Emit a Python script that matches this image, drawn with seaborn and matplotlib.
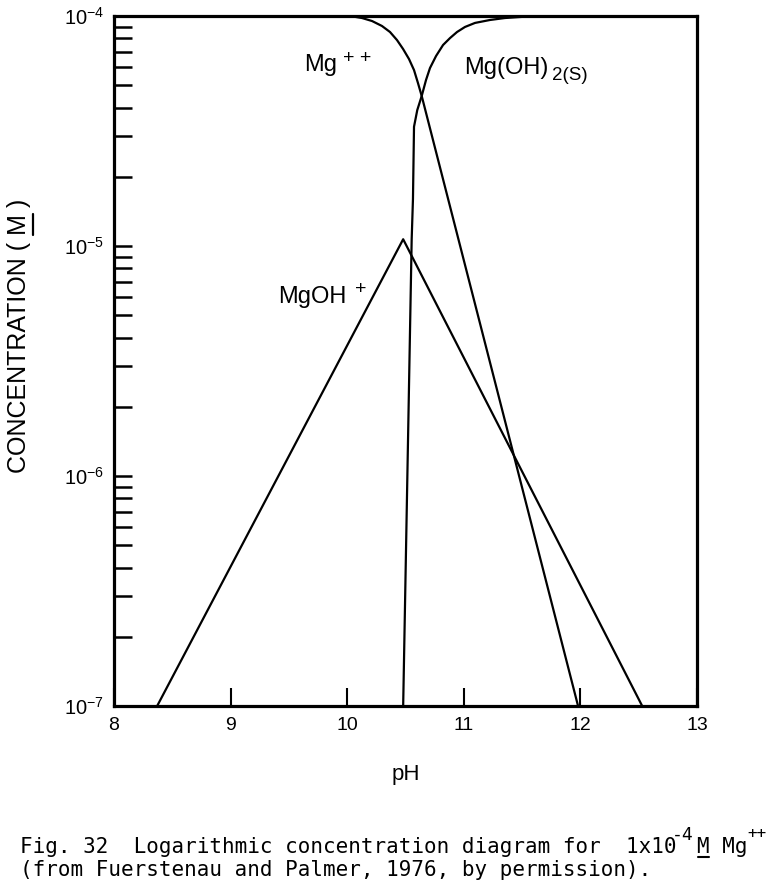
import numpy as np
import pandas as pd
import matplotlib
matplotlib.use("Agg")
import matplotlib.pyplot as plt
import seaborn as sns
from matplotlib.lines import Line2D
from matplotlib.ticker import LogLocator, NullFormatter, FixedLocator, FixedFormatter

# ---- data ----
ph_mg = [8.0, 10.024, 10.127, 10.213, 10.298, 10.367, 10.427, 10.479, 10.530,
         10.573, 10.607, 10.639, 11.98]
conc_mg = [1e-4, 1e-4, 9.80e-5, 9.51e-5, 9.05e-5, 8.52e-5, 7.86e-5, 7.19e-5, 6.50e-5,
           5.82e-5, 5.11e-5, 4.49e-5, 1e-7]

ph_mgoh = [8.37, 10.48, 12.53]
conc_mgoh = [1e-7, 1.07e-5, 1e-7]

ph_solid = [10.48, 10.553, 10.564, 10.573, 10.601, 10.639, 10.676, 10.710, 10.762,
            10.822, 10.882, 10.942, 11.010, 11.096, 11.225, 11.353, 11.482, 11.628, 13.0]
conc_solid = [1e-7, 1.07e-5, 1.6e-5, 3.3e-5, 3.9e-5, 4.49e-5, 5.27e-5, 5.94e-5, 6.70e-5,
              7.48e-5, 8.02e-5, 8.52e-5, 8.96e-5, 9.33e-5, 9.61e-5, 9.80e-5, 9.90e-5, 1e-4, 1e-4]

x_ticks = [8, 9, 10, 11, 12, 13]
x_ticklabels = ["8", "9", "10", "11", "12", "13"]
y_ticks = [1e-7, 1e-6, 1e-5, 1e-4]
y_ticklabels = [r"$10^{-7}$", r"$10^{-6}$", r"$10^{-5}$", r"$10^{-4}$"]

species = ["Mg++", "MgOH+", "Mg(OH)2(s)"]

df = pd.concat([
    pd.DataFrame({"pH": ph_mg, "conc": conc_mg, "species": species[0]}),
    pd.DataFrame({"pH": ph_mgoh, "conc": conc_mgoh, "species": species[1]}),
    pd.DataFrame({"pH": ph_solid, "conc": conc_solid, "species": species[2]}),
], ignore_index=True)

sns.set_style("white")
plt.rcParams["font.family"] = ["Liberation Sans", "DejaVu Sans"]
plt.rcParams["mathtext.fontset"] = "custom"
plt.rcParams["mathtext.rm"] = "Liberation Sans"
plt.rcParams["mathtext.it"] = "Liberation Sans"
plt.rcParams["mathtext.bf"] = "Liberation Sans"
plt.rcParams["mathtext.default"] = "regular"
plt.rcParams["text.color"] = "black"
plt.rcParams["axes.labelcolor"] = "black"
plt.rcParams["xtick.color"] = "black"
plt.rcParams["ytick.color"] = "black"

W, H = 774, 886
fig = plt.figure(figsize=(W / 100, H / 100), dpi=100)
fig.patch.set_facecolor("white")
L, R, T, B = 114, 697, 16, 706
ax = fig.add_axes([L / W, 1 - B / H, (R - L) / W, (B - T) / H])

sns.lineplot(data=df, x="pH", y="conc", hue="species", units="species",
             estimator=None, sort=False, palette={s: "black" for s in species},
             legend=False, linewidth=1.6, ax=ax)

ax.set_yscale("log")
ax.set_xlim(8, 13)
ax.set_ylim(1e-7, 1e-4)

ax.xaxis.set_major_locator(FixedLocator(x_ticks))
ax.xaxis.set_major_formatter(FixedFormatter(x_ticklabels))
ax.yaxis.set_major_locator(FixedLocator(y_ticks))
ax.yaxis.set_major_formatter(FixedFormatter(y_ticklabels))
ax.yaxis.set_minor_locator(LogLocator(base=10, subs=np.arange(2, 10), numticks=20))
ax.yaxis.set_minor_formatter(NullFormatter())
ax.xaxis.set_minor_locator(FixedLocator([]))

ax.tick_params(axis="both", which="both", direction="in", top=False, right=False,
               left=True, bottom=True, color="black", labelcolor="black")
ax.tick_params(axis="y", which="both", length=13, width=1.8, pad=7, labelsize=14.5)
ax.tick_params(axis="x", which="major", length=13, width=1.5, pad=8, labelsize=14)

for s in ax.spines.values():
    s.set_visible(True)
    s.set_color("black")
    s.set_linewidth(2.3)

ax.set_xlabel("pH", fontsize=16, color="black")
ax.xaxis.set_label_coords(0.5, -(764 - B) / (B - T))
ax.xaxis.label.set_va("top")
ax.set_ylabel("")


def px2data(px, py):
    ph = 8 + (px - L) / ((R - L) / 5)
    lg = -4 - (py - T) / ((B - T) / 3)
    return ph, 10 ** lg


def put(px, py, s, size, ha="left", va="baseline"):
    x, y = px2data(px, py)
    ax.text(x, y, s, fontsize=size, ha=ha, va=va, color="black")


# curve labels
put(304, 71, "Mg", 17)
put(343, 63, "+ +", 14)
put(464, 74, "Mg(OH)", 17)
put(552, 80, "2(S)", 13.5)
put(278, 303, "MgOH", 17)
put(355, 294, "+", 14)

# y-axis label with underlined M
ylsize = 18
ycx, ycy = 19, 336
ylab = fig.text(ycx / W, 1 - ycy / H, "CONCENTRATION ( M )", rotation=90,
                ha="center", va="center", fontsize=ylsize, color="black")
renderer = fig.canvas.get_renderer()
def textwidth(s):
    t = fig.text(0, 0, s, fontsize=ylsize)
    w = t.get_window_extent(renderer).width
    t.remove()
    return w
tot = textwidth("CONCENTRATION ( M )")
pre = textwidth("CONCENTRATION ( ")
prem = textwidth("CONCENTRATION ( M")
bottom = ycy + tot / 2
u1, u2 = bottom - pre, bottom - prem
fig.add_artist(Line2D([33 / W, 33 / W], [1 - u1 / H, 1 - u2 / H],
                      transform=fig.transFigure, color="black", lw=1.6))

# caption (typewritten, monospaced)
cap_size = 15
cw = 0.602 * cap_size * 100 / 72
x0 = 20
line1a = "Fig. 32  Logarithmic concentration diagram for  1x10"
line1b = "M Mg"
line2 = "(from Fuerstenau and Palmer, 1976, by permission)."
mono = "DejaVu Sans Mono"
fig.text(x0 / W, 1 - 853 / H, line1a, family=mono, fontsize=cap_size,
         va="baseline", ha="left")
fig.text((x0 + 54 * cw) / W, 1 - 853 / H, line1b, family=mono, fontsize=cap_size,
         va="baseline", ha="left")
fig.text((x0 + 52 * cw) / W, 1 - 840 / H, "-4", family=mono, fontsize=13,
         va="baseline", ha="left")
fig.text((x0 + 58 * cw) / W, 1 - 838 / H, "++", family=mono, fontsize=11.5,
         va="baseline", ha="left")
fig.add_artist(Line2D([(x0 + 54 * cw + 1) / W, (x0 + 55 * cw - 1) / W], [1 - 857 / H] * 2,
                      transform=fig.transFigure, color="black", lw=1.5))
fig.text(x0 / W, 1 - 876 / H, line2, family=mono, fontsize=cap_size,
         va="baseline", ha="left")

fig.savefig("out.png", dpi=100, facecolor="white")
